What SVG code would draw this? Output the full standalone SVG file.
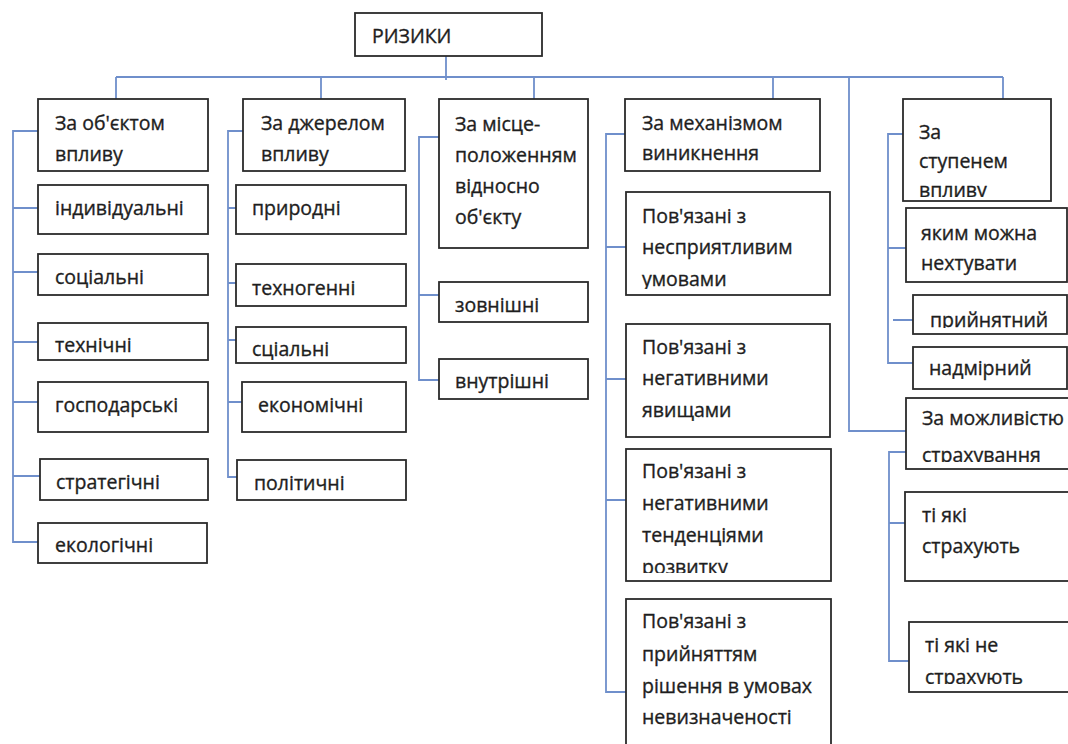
<svg xmlns="http://www.w3.org/2000/svg" width="1068" height="744" viewBox="0 0 1068 744">
<style>
.box{fill:#fff;stroke:#2b2b2b;stroke-width:1.8}
.t{font-family:"Open Sans","Liberation Sans",sans-serif;font-size:19.5px;fill:#1e1e1e;stroke:#1e1e1e;stroke-width:0.35}
.c{fill:none;stroke:#6f8fcb;stroke-width:1.8}
</style>
<defs>
<clipPath id="cl-b5"><rect x="903" y="99" width="148" height="98"/></clipPath>
<clipPath id="cl-pr"><rect x="913" y="296" width="160" height="32"/></clipPath>
<clipPath id="cl-p1"><rect x="626" y="193" width="204" height="96"/></clipPath>
<clipPath id="cl-p3"><rect x="626" y="450" width="205" height="123"/></clipPath>
<clipPath id="cl-zm"><rect x="906" y="399" width="170" height="63"/></clipPath>
<clipPath id="cl-ne"><rect x="909" y="623" width="170" height="61"/></clipPath>
</defs>
<rect width="1068" height="744" fill="#fff"/>
<g id="connectors">
<path class="c" d="M446 56V80M116 77H1003M116 77V99M321 77V99M534 77V99M773 77V99M1003 77V99M849 77V431H906"/>
<path class="c" d="M38 131H13V542H38M13 208H38M13 272H38M13 342H38M13 402H38M13 476H40"/>
<path class="c" d="M243 131H228V477H237M228 208H236M228 283H236M228 340H236M228 402H242"/>
<path class="c" d="M439 137H419V380H439M419 295H443"/>
<path class="c" d="M625 134H606V692H626M606 247H626M606 379H626M606 500H626"/>
<path class="c" d="M903 134H888V363H913M888 248H906M893 320H913"/>
<path class="c" d="M906 452H889V661H909M889 523H905"/>
</g>
<g id="n-rizyky"><rect class="box" x="355" y="13" width="187" height="43"/><text class="t" x="372" y="43">РИЗИКИ</text></g>
<g id="n-obiekt"><rect class="box" x="38" y="99" width="170" height="72"/><text class="t" x="55" y="130">За об'єктом</text><text class="t" x="55" y="161">впливу</text></g>
<g id="n-dzherelo"><rect class="box" x="243" y="99" width="162" height="72"/><text class="t" x="261" y="130">За джерелом</text><text class="t" x="261" y="161">впливу</text></g>
<g id="n-mistse"><rect class="box" x="439" y="99" width="149" height="149"/><text class="t" x="455" y="131">За місце-</text><text class="t" x="455" y="162">положенням</text><text class="t" x="455" y="193">відносно</text><text class="t" x="455" y="224">об'єкту</text></g>
<g id="n-mekhanizm"><rect class="box" x="625" y="99" width="195" height="72"/><text class="t" x="642" y="130">За механізмом</text><text class="t" x="642" y="160">виникнення</text></g>
<g id="n-stupin"><rect class="box" x="903" y="99" width="148" height="102"/><g clip-path="url(#cl-b5)"><text class="t" x="919" y="139">За</text><text class="t" x="919" y="168">ступенем</text><text class="t" x="919" y="197">впливу</text></g></g>
<g id="n-indyv"><rect class="box" x="38" y="185" width="170" height="49"/><text class="t" x="55" y="215">індивідуальні</text></g>
<g id="n-sots"><rect class="box" x="38" y="254" width="170" height="41"/><text class="t" x="55" y="284">соціальні</text></g>
<g id="n-tekhn"><rect class="box" x="38" y="323" width="170" height="37"/><text class="t" x="55" y="352">технічні</text></g>
<g id="n-hosp"><rect class="box" x="38" y="382" width="170" height="50"/><text class="t" x="55" y="412">господарські</text></g>
<g id="n-strat"><rect class="box" x="40" y="459" width="168" height="41"/><text class="t" x="56" y="489">стратегічні</text></g>
<g id="n-ekol"><rect class="box" x="38" y="523" width="169" height="40"/><text class="t" x="55" y="552">екологічні</text></g>
<g id="n-pryr"><rect class="box" x="236" y="185" width="170" height="49"/><text class="t" x="252" y="215">природні</text></g>
<g id="n-tekhnoh"><rect class="box" x="236" y="264" width="170" height="42"/><text class="t" x="252" y="295">техногенні</text></g>
<g id="n-stsial"><rect class="box" x="236" y="327" width="170" height="36"/><text class="t" x="252" y="356">сціальні</text></g>
<g id="n-ekon"><rect class="box" x="242" y="382" width="164" height="50"/><text class="t" x="258" y="412">економічні</text></g>
<g id="n-polit"><rect class="box" x="237" y="460" width="169" height="40"/><text class="t" x="254" y="490">політичні</text></g>
<g id="n-zovn"><rect class="box" x="439" y="282" width="149" height="40"/><text class="t" x="455" y="312">зовнішні</text></g>
<g id="n-vnutr"><rect class="box" x="439" y="359" width="149" height="40"/><text class="t" x="455" y="388">внутрішні</text></g>
<g id="n-p1"><rect class="box" x="626" y="192" width="204" height="103"/><g clip-path="url(#cl-p1)"><text class="t" x="642" y="223">Пов'язані з</text><text class="t" x="642" y="254">несприятливим</text><text class="t" x="642" y="286">умовами</text></g></g>
<g id="n-p2"><rect class="box" x="626" y="324" width="204" height="113"/><text class="t" x="642" y="354">Пов'язані з</text><text class="t" x="642" y="385">негативними</text><text class="t" x="642" y="417">явищами</text></g>
<g id="n-p3"><rect class="box" x="626" y="449" width="205" height="132"/><g clip-path="url(#cl-p3)"><text class="t" x="642" y="478">Пов'язані з</text><text class="t" x="642" y="510">негативними</text><text class="t" x="642" y="542">тенденціями</text><text class="t" x="642" y="574">розвитку</text></g></g>
<g id="n-p4"><rect class="box" x="626" y="599" width="205" height="160"/><text class="t" x="642" y="628">Пов'язані з</text><text class="t" x="642" y="661">прийняттям</text><text class="t" x="642" y="693">рішення в умовах</text><text class="t" x="642" y="724">невизначеності</text></g>
<g id="n-nekhtuv"><rect class="box" x="906" y="208" width="161" height="74"/><text class="t" x="921" y="240">яким можна</text><text class="t" x="921" y="270">нехтувати</text></g>
<g id="n-pryin"><rect class="box" x="913" y="295" width="154" height="39"/><g clip-path="url(#cl-pr)"><text class="t" x="930" y="327">прийнятний</text></g></g>
<g id="n-nadm"><rect class="box" x="913" y="347" width="154" height="42"/><text class="t" x="929" y="375">надмірний</text></g>
<g id="n-strakh"><rect class="box" x="906" y="398" width="170" height="71"/><g clip-path="url(#cl-zm)"><text class="t" x="922" y="425">За можливістю</text><text class="t" x="922" y="462">страхування</text></g></g>
<g id="n-tak"><rect class="box" x="905" y="492" width="170" height="89"/><text class="t" x="922" y="522">ті які</text><text class="t" x="922" y="553">страхують</text></g>
<g id="n-ni"><rect class="box" x="909" y="622" width="170" height="70"/><g clip-path="url(#cl-ne)"><text class="t" x="925" y="652">ті які не</text><text class="t" x="925" y="684">страхують</text></g></g>
</svg>
